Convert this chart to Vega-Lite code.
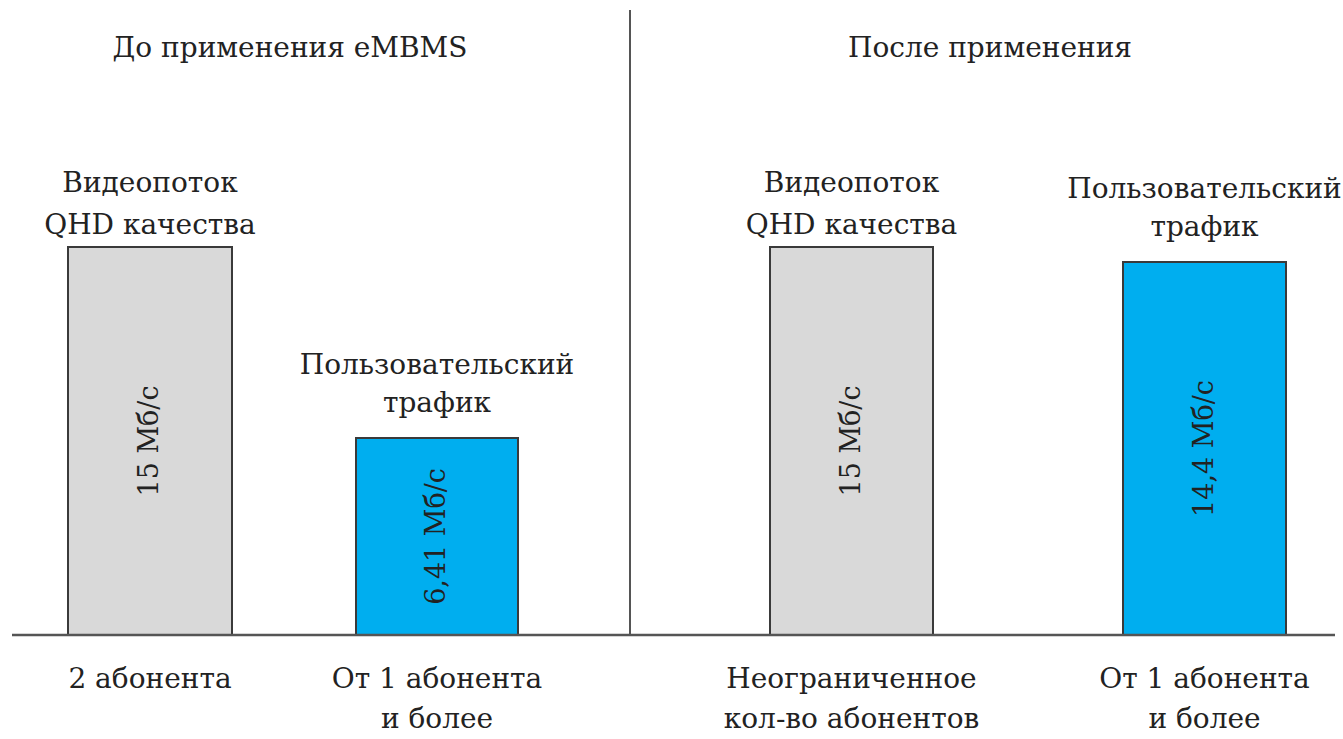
{
  "$schema": "https://vega.github.io/schema/vega-lite/v6.json",
  "width": 1343,
  "height": 739,
  "autosize": {"type": "fit", "contains": "padding"},
  "padding": 0,
  "background": "white",
  "config": {"view": {"stroke": null}, "font": "DejaVu Serif"},
  "datasets": {
    "bars": [
      {"x0": 68, "x1": 232, "h": 15, "kind": "Видеопоток", "top": "Видеопоток\nQHD качества", "val": "15 Мб/с", "bottom": "2 абонента"},
      {"x0": 356, "x1": 518, "h": 7.62, "kind": "Трафик", "top": "Пользовательский\nтрафик", "val": "6,41 Мб/с", "bottom": "От 1 абонента\nи более"},
      {"x0": 770, "x1": 933, "h": 15, "kind": "Видеопоток", "top": "Видеопоток\nQHD качества", "val": "15 Мб/с", "bottom": "Неограниченное\nкол-во абонентов"},
      {"x0": 1123, "x1": 1286, "h": 14.42, "kind": "Трафик", "top": "Пользовательский\nтрафик", "val": "14,4 Мб/с", "bottom": "От 1 абонента\nи более"}
    ],
    "titles": [
      {"xc": 290, "title": "До применения eMBMS"},
      {"xc": 990, "title": "После применения"}
    ]
  },
  "layer": [
    {
      "data": {"name": "bars"},
      "mark": {"type": "bar", "stroke": "#3a3a3a", "strokeWidth": 2},
      "encoding": {
        "x": {"field": "x0", "type": "quantitative", "scale": {"domain": [0, 1343], "nice": false, "zero": false}, "axis": null},
        "x2": {"field": "x1"},
        "y": {"field": "h", "type": "quantitative", "scale": {"domain": [-4.02, 24.55], "nice": false, "zero": false}, "axis": null},
        "y2": {"datum": 0},
        "color": {"field": "kind", "type": "nominal", "scale": {"domain": ["Видеопоток", "Трафик"], "range": ["#d9d9d9", "#00aeef"]}, "legend": null}
      }
    },
    {
      "data": {"values": [{}]},
      "mark": {"type": "rule", "color": "#555555", "strokeWidth": 2},
      "encoding": {
        "x": {"datum": 630, "type": "quantitative"},
        "y": {"datum": 0, "type": "quantitative"},
        "y2": {"datum": 24.16}
      }
    },
    {
      "data": {"values": [{}]},
      "mark": {"type": "rule", "color": "#555555", "strokeWidth": 2.5},
      "encoding": {
        "x": {"datum": 12, "type": "quantitative"},
        "x2": {"datum": 1335},
        "y": {"datum": 0, "type": "quantitative"}
      }
    },
    {
      "data": {"name": "bars"},
      "transform": [{"filter": "datum.kind === 'Видеопоток'"}, {"calculate": "(datum.x0 + datum.x1) / 2", "as": "xc"}],
      "mark": {"type": "text", "fontSize": 28, "color": "#222222", "align": "center", "baseline": "alphabetic", "lineBreak": "\n", "lineHeight": 42, "dy": -55},
      "encoding": {
        "x": {"field": "xc", "type": "quantitative"},
        "y": {"field": "h", "type": "quantitative"},
        "text": {"field": "top"}
      }
    },
    {
      "data": {"name": "bars"},
      "transform": [{"filter": "datum.kind === 'Трафик'"}, {"calculate": "(datum.x0 + datum.x1) / 2", "as": "xc"}],
      "mark": {"type": "text", "fontSize": 28, "color": "#222222", "align": "center", "baseline": "alphabetic", "lineBreak": "\n", "lineHeight": 38, "dy": -64},
      "encoding": {
        "x": {"field": "xc", "type": "quantitative"},
        "y": {"field": "h", "type": "quantitative"},
        "text": {"field": "top"}
      }
    },
    {
      "data": {"name": "bars"},
      "transform": [
        {"calculate": "(datum.x0 + datum.x1) / 2", "as": "xc"},
        {"calculate": "datum.h / 2", "as": "mid"}
      ],
      "mark": {"type": "text", "fontSize": 27, "color": "#222222", "align": "center", "baseline": "middle", "angle": 270},
      "encoding": {
        "x": {"field": "xc", "type": "quantitative"},
        "y": {"field": "mid", "type": "quantitative"},
        "text": {"field": "val"}
      }
    },
    {
      "data": {"name": "bars"},
      "transform": [{"calculate": "(datum.x0 + datum.x1) / 2", "as": "xc"}],
      "mark": {"type": "text", "fontSize": 28, "color": "#222222", "align": "center", "baseline": "alphabetic", "lineBreak": "\n", "lineHeight": 40, "dy": 53},
      "encoding": {
        "x": {"field": "xc", "type": "quantitative"},
        "y": {"datum": 0, "type": "quantitative"},
        "text": {"field": "bottom"}
      }
    },
    {
      "data": {"name": "titles"},
      "mark": {"type": "text", "fontSize": 28, "color": "#222222", "align": "center", "baseline": "alphabetic"},
      "encoding": {
        "x": {"field": "xc", "type": "quantitative"},
        "y": {"datum": 22.34, "type": "quantitative"},
        "text": {"field": "title"}
      }
    }
  ]
}
